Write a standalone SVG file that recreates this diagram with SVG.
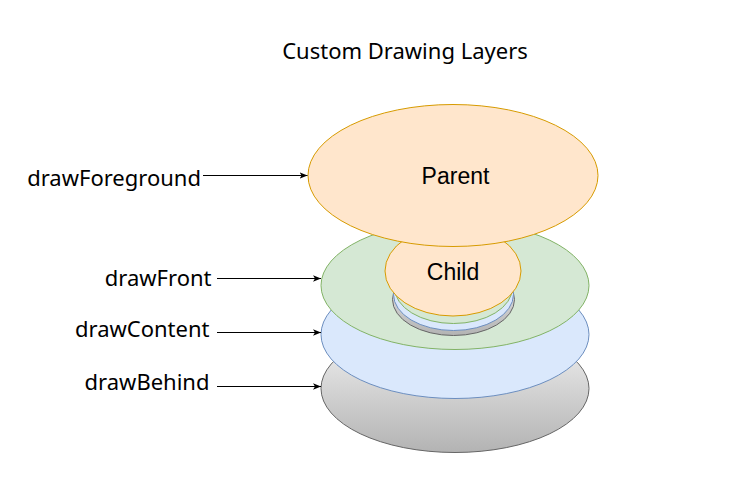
<svg xmlns="http://www.w3.org/2000/svg" width="729" height="490" viewBox="0 0 729 490">
  <defs>
    <linearGradient id="grayGrad" x1="0" y1="0" x2="0" y2="1">
      <stop offset="0" stop-color="#f5f5f5"/>
      <stop offset="1" stop-color="#b3b3b3"/>
    </linearGradient>
    <marker id="arrow" viewBox="0 0 10 10" refX="10" refY="5" markerWidth="8" markerHeight="8" markerUnits="userSpaceOnUse" orient="auto">
      <path d="M0,1 L10,5 L0,9 L2.5,5 Z" fill="#000"/>
    </marker>
    <style>
      .gray { fill: url(#grayGrad); stroke: #666666; stroke-width: 1; }
      .blue { fill: #dae8fc; stroke: #6c8ebf; stroke-width: 1; }
      .green { fill: #d5e8d4; stroke: #82b366; stroke-width: 1; }
      .orange { fill: #ffe6cc; stroke: #d79b00; stroke-width: 1; }
      .lbl { font-family: "Noto Sans", "Open Sans", sans-serif; font-size: 22px; fill: #000; text-anchor: end; }
      .title { font-family: "Noto Sans", "Open Sans", sans-serif; font-size: 22px; fill: #000; text-anchor: middle; }
      .node { font-family: "Liberation Sans", Arial, sans-serif; font-size: 23px; fill: #000; text-anchor: middle; }
      .conn { stroke: #000; stroke-width: 1; fill: none; marker-end: url(#arrow); }
    </style>
  </defs>
  <rect width="729" height="490" fill="#ffffff"/>

  <text class="title" x="405" y="59">Custom Drawing Layers</text>

  <g id="layer-behind">
    <ellipse class="gray" cx="455" cy="388.5" rx="134" ry="64"/>
  </g>
  <g id="layer-content">
    <ellipse class="blue" cx="455" cy="334.5" rx="134" ry="64"/>
  </g>
  <g id="layer-front">
    <ellipse class="green" cx="455" cy="285.5" rx="134" ry="64"/>
  </g>
  <g id="child-behind">
    <ellipse class="gray" cx="453.5" cy="299.5" rx="61" ry="36"/>
  </g>
  <g id="child-content">
    <ellipse class="blue" cx="453.5" cy="294.5" rx="60" ry="36"/>
  </g>
  <g id="child-front">
    <ellipse class="green" cx="453.5" cy="287.5" rx="59" ry="36"/>
  </g>
  <g id="child">
    <ellipse class="orange" cx="453" cy="271" rx="68" ry="45"/>
    <text class="node" x="453" y="279.5">Child</text>
  </g>
  <g id="parent">
    <ellipse class="orange" cx="453" cy="175.5" rx="145" ry="71"/>
    <text class="node" x="455.5" y="183.5">Parent</text>
  </g>

  <g id="labels">
    <text class="lbl" x="201" y="186">drawForeground</text>
    <text class="lbl" x="211.5" y="286">drawFront</text>
    <text class="lbl" x="209.5" y="337">drawContent</text>
    <text class="lbl" x="209.5" y="390">drawBehind</text>
  </g>

  <g id="connectors">
    <line class="conn" x1="203" y1="175.5" x2="307.5" y2="175.5"/>
    <line class="conn" x1="217" y1="278.5" x2="321" y2="278.5"/>
    <line class="conn" x1="217" y1="332.5" x2="321" y2="332.5"/>
    <line class="conn" x1="217" y1="386.5" x2="321" y2="386.5"/>
  </g>
</svg>
